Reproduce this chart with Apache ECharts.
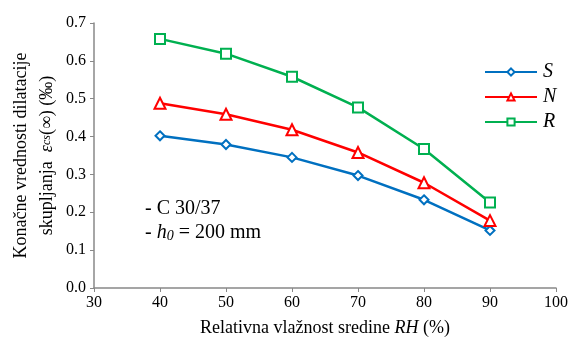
<!DOCTYPE html>
<html>
<head>
<meta charset="utf-8">
<script src="https://cdn.jsdelivr.net/npm/echarts@6/dist/echarts.min.js"></script>
<style>html,body{margin:0;padding:0;background:#fff}#c{width:569px;height:340px}</style>
</head>
<body>
<div id="c"></div>
<script>
const rhValues = [40, 50, 60, 70, 80, 90];
const seriesNames = ['S', 'N', 'R'];
const sValues = [0.402, 0.379, 0.345, 0.297, 0.233, 0.152];
const nValues = [0.488, 0.459, 0.418, 0.358, 0.278, 0.178];
const rValues = [0.658, 0.619, 0.558, 0.477, 0.367, 0.226];

const F = '"Liberation Serif","Times New Roman",serif';
const chart = echarts.init(document.getElementById('c'), null, {renderer: 'canvas'});
function pts(v) { return rhValues.map((x, i) => [x, v[i]]); }
const colors = ['#0070C0', '#FF0000', '#00B050'];
const symbols = ['diamond', 'triangle', 'rect'];
const sizes = [9, 11, 10];
const vals = [sValues, nValues, rValues];

chart.setOption({
  animation: false,
  grid: {left: 94, right: 13, top: 23, bottom: 52, containLabel: false, outerBoundsMode: 'none'},
  legend: {
    orient: 'vertical', left: 484, top: 62, padding: 0,
    itemWidth: 52, itemHeight: 9, itemGap: 5,
    textStyle: {fontFamily: F, fontSize: 20, fontStyle: 'italic', color: '#000', padding: [0, 0, 0, 1]},
    data: seriesNames
  },
  xAxis: {
    type: 'value', min: 30, max: 100, interval: 10,
    name: 'Relativna vlažnost sredine {i|RH} (%)',
    nameLocation: 'middle', nameGap: 31, nameMoveOverlap: false,
    nameTextStyle: {fontFamily: F, fontSize: 18, color: '#000',
      rich: {i: {fontFamily: F, fontSize: 18, fontStyle: 'italic', color: '#000'}}},
    axisLine: {lineStyle: {color: '#888', width: 1.5}},
    axisTick: {show: true, length: 4, lineStyle: {color: '#888'}},
    axisLabel: {fontFamily: F, fontSize: 16, color: '#000', margin: 7},
    splitLine: {show: false}
  },
  yAxis: {
    type: 'value', min: 0, max: 0.7, interval: 0.1,
    name: 'Konačne vrednosti dilatacije\nskupljanja  {e|ε}{s|cs}(∞) (‰)',
    nameLocation: 'middle', nameRotate: 90, nameGap: 34, nameMoveOverlap: false,
    nameTextStyle: {fontFamily: F, fontSize: 18, color: '#000', lineHeight: 26,
      rich: {
        e: {fontFamily: F, fontSize: 18, fontStyle: 'italic', color: '#000', lineHeight: 26},
        s: {fontFamily: F, fontSize: 12, fontStyle: 'italic', color: '#000', lineHeight: 22}
      }},
    axisLine: {show: true, lineStyle: {color: '#888', width: 1.5}},
    axisTick: {show: true, length: 4, lineStyle: {color: '#888'}},
    axisLabel: {fontFamily: F, fontSize: 16, color: '#000', margin: 8, formatter: v => v.toFixed(1)},
    splitLine: {show: false}
  },
  graphic: [
    {type: 'text', left: 145, top: 199, style: {text: '- C 30/37', font: '20px ' + F, fill: '#000'}},
    {type: 'text', left: 145, top: 223, style: {
      text: '- {i|h}{s|0} = 200 mm', font: '20px ' + F, fill: '#000',
      rich: {i: {font: 'italic 20px ' + F, fill: '#000'}, s: {font: 'italic 14px ' + F, fill: '#000', padding: [7, 0, 0, 0]}}
    }}
  ],
  series: seriesNames.map((n, k) => ({
    name: n, type: 'line', data: pts(vals[k]),
    symbol: symbols[k], symbolSize: sizes[k],
    itemStyle: {color: '#fff', borderColor: colors[k], borderWidth: 2},
    lineStyle: {color: colors[k], width: 2.5},
    color: colors[k]
  }))
});
</script>
</body>
</html>
